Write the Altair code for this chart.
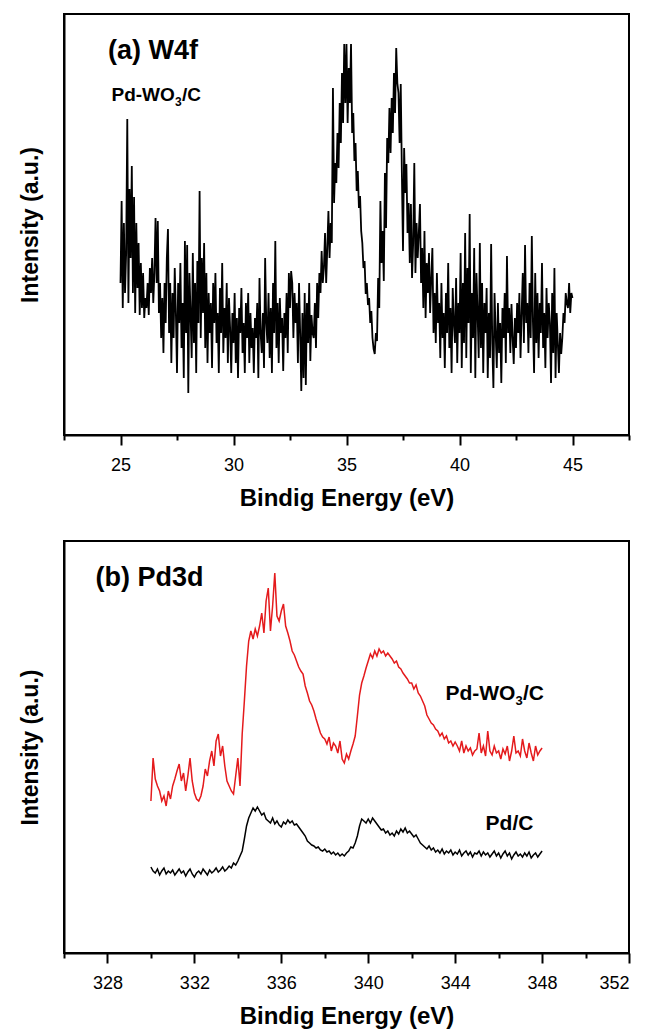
import altair as alt
import pandas as pd

FONT = "Liberation Sans"

# ---------------- Panel (a): W4f, Pd-WO3/C ----------------
W4F_START = 25.0
W4F_STEP = 0.05
w4f_intensity = [
    150, 232, 125, 210, 140, 180, 314, 130, 244, 175, 267, 140, 236, 120, 210, 145, 190, 118, 170, 125,
    160, 115, 135, 125, 150, 118, 165, 140, 175, 130, 160, 215, 150, 212, 120, 150, 95, 135, 80, 150,
    110, 175, 204, 100, 150, 70, 140, 95, 165, 120, 60, 150, 110, 170, 85, 130, 55, 192, 100, 188,
    40, 160, 120, 75, 180, 90, 150, 60, 172, 110, 242, 95, 175, 120, 190, 85, 160, 70, 140, 100,
    130, 65, 150, 110, 160, 90, 120, 60, 145, 100, 170, 80, 125, 95, 150, 70, 135, 105, 60, 120,
    90, 140, 70, 115, 55, 125, 100, 145, 80, 110, 60, 130, 95, 140, 70, 120, 85, 105, 60, 115,
    95, 130, 55, 155, 100, 80, 120, 65, 175, 110, 90, 140, 75, 125, 60, 150, 100, 192, 85, 130,
    70, 135, 100, 115, 62, 120, 95, 140, 80, 160, 125, 162, 150, 95, 140, 110, 130, 70, 150, 100,
    42, 120, 55, 140, 48, 130, 90, 150, 72, 118, 100, 95, 130, 85, 150, 115, 160, 140, 182, 150,
    165, 200, 150, 185, 222, 175, 210, 190, 345, 230, 270, 250, 300, 265, 330, 290, 360, 310, 389, 330,
    389, 310, 365, 330, 389, 300, 320, 272, 290, 242, 262, 225, 237, 202, 190, 165, 172, 139, 150, 128,
    135, 110, 122, 95, 84, 79, 100, 92, 155, 125, 232, 170, 202, 152, 260, 205, 295, 270, 325, 280,
    335, 300, 360, 320, 385, 350, 340, 290, 349, 260, 182, 285, 240, 269, 200, 230, 170, 229, 155, 190,
    270, 160, 210, 175, 200, 229, 150, 185, 125, 202, 115, 170, 140, 180, 120, 155, 185, 100, 140, 90,
    160, 110, 130, 75, 150, 95, 120, 65, 140, 100, 170, 85, 125, 60, 145, 110, 90, 155, 70, 130,
    100, 180, 65, 150, 90, 200, 75, 165, 110, 219, 60, 140, 95, 185, 55, 160, 120, 75, 190, 85,
    150, 60, 130, 100, 145, 55, 120, 75, 189, 90, 45, 140, 100, 65, 130, 80, 110, 50, 125, 95,
    140, 70, 177, 100, 125, 80, 129, 95, 69, 115, 85, 130, 100, 140, 75, 120, 160, 90, 188, 110,
    130, 80, 150, 95, 197, 110, 60, 160, 90, 140, 75, 130, 100, 170, 85, 120, 65, 145, 95, 130,
    110, 50, 140, 80, 165, 55, 120, 90, 60, 100, 79, 95, 120, 110, 140, 130, 125, 150, 120, 140,
    135,
]
a_major_ticks = [25, 30, 35, 40, 45]
a_minor_ticks = [22.5, 27.5, 32.5, 37.5, 42.5, 47.5]

# ---------------- Panel (b): Pd3d ----------------
PD_START = 330.0
PD_STEP = 0.1
pd_wo3_c = [
    150, 193, 172, 165, 160, 150, 155, 145, 160, 152,
    165, 172, 180, 187, 170, 178, 160, 175, 193, 170,
    158, 152, 150, 155, 165, 182, 175, 190, 200, 185,
    210, 217, 195, 205, 185, 170, 165, 160, 157, 175,
    193, 165, 217, 250, 285, 310, 320, 312, 322, 315,
    325, 338, 318, 350, 363, 320, 345, 378, 335, 330,
    340, 347, 325, 318, 310, 300, 296, 290, 284, 280,
    277, 265, 258, 250, 246, 240, 232, 225, 218, 214,
    212, 207, 214, 200, 208, 205, 198, 210, 192, 188,
    197, 192, 200, 207, 215, 235, 256, 268, 275, 283,
    290, 297, 293, 300, 295, 302, 298, 300, 295, 298,
    295, 292, 288, 290, 284, 282, 278, 275, 272, 268,
    268, 262, 266, 258, 255, 250, 245, 236, 232, 228,
    226, 222, 220, 215, 218, 212, 215, 208, 210, 205,
    209, 205, 200, 210, 198, 205, 200, 203, 196, 200,
    202, 218, 198, 205, 195, 220, 200, 196, 205, 198,
    200, 192, 202, 197, 205, 190, 200, 215, 198, 200,
    195, 212, 200, 193, 208, 198, 190, 205, 196, 200,
    203,
]
pd_c = [
    84, 80, 78, 82, 76, 80, 83, 77, 80, 78,
    81, 76, 79, 82, 78, 80, 75, 79, 82, 77,
    74, 78, 80, 77, 82, 79, 76, 81, 78, 80,
    83, 79, 81, 84, 80, 82, 85, 83, 88, 86,
    90, 95, 100, 112, 125, 133, 138, 143, 140, 144,
    140, 136, 138, 132, 130, 128, 133, 127, 130, 126,
    124, 129, 127, 131, 128, 130, 126, 127, 124, 121,
    118, 115, 110, 108, 106, 105, 103, 104, 101, 100,
    102, 99, 100, 97, 99, 96, 98, 95, 97, 95,
    98, 100, 104, 103, 108, 115, 125, 132, 130, 128,
    132, 128, 133, 130, 127, 124, 121, 122, 118, 120,
    116, 118, 115, 120, 117, 122, 119, 123, 118, 120,
    117, 114, 116, 112, 108, 106, 104, 102, 105, 101,
    103, 99, 101, 98, 102, 97, 100, 98, 101, 96,
    99, 97, 101, 95, 98, 100, 96, 99, 94, 98,
    97, 100, 95, 99, 96, 98, 94, 97, 100, 95,
    98, 93, 97, 100, 95, 98, 92, 96, 99, 95,
    97, 94, 98, 95, 99, 93, 96, 98, 94, 97,
    100,
]
b_major_ticks = [328, 332, 336, 340, 344, 348, 352]
b_minor_ticks = [326, 330, 334, 338, 342, 346, 350]

# ---------------- data frames ----------------
df_a = pd.DataFrame({
    "energy": [round(W4F_START + i * W4F_STEP, 3) for i in range(len(w4f_intensity))],
    "intensity": w4f_intensity,
})
n_b = len(pd_c)
energies_b = [round(PD_START + i * PD_STEP, 3) for i in range(n_b)]
df_b = pd.DataFrame({
    "energy": energies_b * 2,
    "intensity": pd_wo3_c + pd_c,
    "sample": ["Pd-WO3/C"] * n_b + ["Pd/C"] * n_b,
})

W, HA, HB = 565, 421, 412

def x_axis(values, size, labels, title):
    kw = dict(orient="bottom", values=values, tickSize=size, tickWidth=2, tickColor="black",
              grid=False, domainColor="black", domainWidth=2)
    if labels:
        kw.update(labels=True, labelFont=FONT, labelFontSize=18, labelColor="black",
                  labelPadding=11, format="d", title=title, titleFont=FONT,
                  titleFontSize=24, titleFontWeight="bold", titleColor="black",
                  titlePadding=12)
    else:
        kw.update(labels=False, title=None, domain=False)
    return alt.Axis(**kw)

def y_axis():
    return alt.Axis(labels=False, ticks=False, grid=False, title="Intensity (a.u.)",
                    titleFont=FONT, titleFontSize=23, titleFontWeight="bold",
                    titleColor="black", titlePadding=22, domainColor="black", domainWidth=2)

def text_layers(scale_x, scale_y, rows):
    layers = []
    for x, y, t, dx, dy, fs in rows:
        layers.append(
            alt.Chart(pd.DataFrame({"x": [x], "intensity": [y], "t": [t]})).mark_text(
                align="left", baseline="alphabetic", font=FONT, fontWeight="bold",
                fontSize=fs, dx=dx, dy=dy, color="black"
            ).encode(
                x=alt.X("x:Q", scale=scale_x, axis=None),
                y=alt.Y("intensity:Q", scale=scale_y, axis=y_axis()),
                text="t:N",
            )
        )
    return layers

# panel a
xa = alt.Scale(domain=[22.5, 47.5], nice=False, zero=False)
ya = alt.Scale(domain=[-2, 419], nice=False, zero=False)

line_a = alt.Chart(df_a).mark_line(color="black", strokeWidth=1.8).encode(
    x=alt.X("energy:Q", scale=xa, axis=x_axis(a_major_ticks, 10, True, "Bindig Energy (eV)")),
    y=alt.Y("intensity:Q", scale=ya, axis=y_axis()),
)
minor_a = alt.Chart(pd.DataFrame({"t": a_minor_ticks})).mark_point(opacity=0).encode(
    x=alt.X("t:Q", scale=xa, axis=x_axis(a_minor_ticks, 5, False, None)),
)
texts_a = text_layers(xa, ya, [
    (24.45, 374, "(a) W4f", 0, 0, 27),
    (24.6, 332, "Pd-WO", 0, 0, 19),
    (24.6, 332, "3", 63.5, 5, 12),
    (24.6, 332, "/C", 70.5, 0, 19),
])
panel_a = alt.layer(line_a, minor_a, *texts_a).resolve_axis(x="independent").properties(
    width=W, height=HA)

# panel b
xb = alt.Scale(domain=[326, 352], nice=False, zero=False)
yb = alt.Scale(domain=[-2, 410], nice=False, zero=False)

line_b = alt.Chart(df_b).mark_line(strokeWidth=1.5).encode(
    x=alt.X("energy:Q", scale=xb, axis=x_axis(b_major_ticks, 10, True, "Bindig Energy (eV)")),
    y=alt.Y("intensity:Q", scale=yb, axis=y_axis()),
    color=alt.Color("sample:N", scale=alt.Scale(domain=["Pd-WO3/C", "Pd/C"],
                                                 range=["#e41a1c", "black"]), legend=None),
)
minor_b = alt.Chart(pd.DataFrame({"t": b_minor_ticks})).mark_point(opacity=0).encode(
    x=alt.X("t:Q", scale=xb, axis=x_axis(b_minor_ticks, 5, False, None)),
)
texts_b = text_layers(xb, yb, [
    (327.45, 365, "(b) Pd3d", 0, 0, 27),
    (343.55, 251, "Pd-WO", 0, 0, 21),
    (343.55, 251, "3", 70, 5, 13),
    (343.55, 251, "/C", 77.5, 0, 21),
    (345.4, 121, "Pd/C", 0, 0, 21),
])
panel_b = alt.layer(line_b, minor_b, *texts_b).resolve_axis(x="independent").properties(
    width=W, height=HB)

chart = alt.vconcat(panel_a, panel_b, spacing=106, bounds="flush").properties(
    padding={"left": 18, "top": 13, "right": 5, "bottom": 5},
).configure(background="white").configure_view(stroke="black", strokeWidth=2)

chart.save("out.html", embed_options={"renderer": "svg", "actions": False})
